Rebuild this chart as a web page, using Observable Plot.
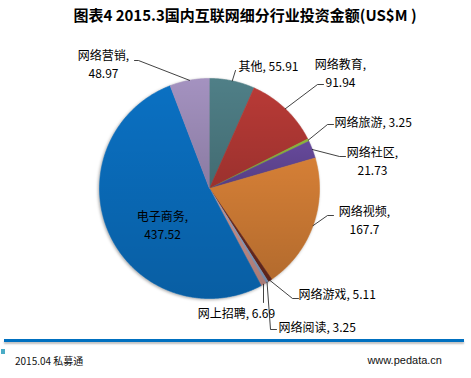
<!DOCTYPE html>
<html><head><meta charset="utf-8">
<script src="https://cdn.jsdelivr.net/npm/d3@7"></script>
<script src="https://cdn.jsdelivr.net/npm/@observablehq/plot@0.6"></script>
<style>
body{margin:0;background:#fff;}
#wrap{position:relative;width:471px;height:378px;overflow:hidden;font-family:"Noto Sans CJK SC","Noto Sans",sans-serif;}
#title{position:absolute;top:3px;left:0;width:490px;text-align:center;font-weight:bold;font-size:15px;line-height:24px;color:#000;}
#chart{position:absolute;top:30px;left:0;}
#rule{position:absolute;top:339px;left:4px;width:460px;height:3px;background:#0070c0;box-shadow:0 2px 2px rgba(0,0,0,0.25);}
#sq{position:absolute;top:349px;left:1px;width:4px;height:5px;background:#4bacc6;}
#f1{position:absolute;top:353px;left:15px;font-size:10px;line-height:16px;color:#111;}
#f2{position:absolute;top:352px;right:29px;font-size:11px;line-height:16px;color:#111;font-family:"Liberation Sans","Noto Sans",sans-serif;}
</style></head>
<body><div id="wrap">
<div id="title">图表4 2015.3国内互联网细分行业投资金额(US$M )</div>
<div id="chart"></div>
<div id="rule"></div><div id="sq"></div>
<div id="f1">2015.04 私募通</div>
<div id="f2">www.pedata.cn</div>
</div>
<script>
const categories = ["其他","网络教育","网络旅游","网络社区","网络视频","网络游戏","网络阅读","网上招聘","电子商务","网络营销"];
const values = [55.91,91.94,3.25,21.73,167.7,5.11,3.25,6.69,437.52,48.97];
const valueLabels = ["55.91","91.94","3.25","21.73","167.7","5.11","3.25","6.69","437.52","48.97"];
const colors = ["#4f7f87","#b83a36","#8db53b","#66499b","#d57f36","#6e2a1f","#8aa3c8","#c9918c","#0a70c2","#a492c0"];

// layout (page coordinates): leader end, underscore length, text block centre/start, anchor, two-line?
const labelLayout = [
  {end:[235,70], tick:0, text:[238,65], anchor:"start", split:false},
  {end:[317,84], tick:6, text:[340,72], anchor:"middle", split:true},
  {end:[327,124], tick:6, text:[334,121], anchor:"start", split:false},
  {end:[339,156], tick:6, text:[372,160], anchor:"middle", split:true},
  {end:[327,215], tick:6, text:[364,219], anchor:"middle", split:true},
  {end:[292,298], tick:6, text:[298,293], anchor:"start", split:false},
  {end:[270,329], tick:6, text:[278,326], anchor:"start", split:false},
  {end:[263,302], tick:0, text:[236,312], anchor:"middle", split:false},
  {end:null, tick:0, text:[162,223.5], anchor:"middle", split:true},
  {end:[138,60], tick:-4, text:[103,63], anchor:"middle", split:true}
];
const CX = 209, CY = 188, R = 110;

const total = d3.sum(values);
let acc = 0;
const slices = categories.map((c, i) => {
  const a0 = acc / total * 2 * Math.PI; acc += values[i];
  const a1 = acc / total * 2 * Math.PI;
  return {c, a0, a1, mid: (a0 + a1) / 2};
});
const piePts = slices.flatMap(s => {
  const n = Math.max(2, Math.ceil((s.a1 - s.a0) / (Math.PI / 360)));
  const pts = [{c: s.c, x: CX, y: CY}];
  for (let k = 0; k <= n; k++) {
    const a = s.a0 + (s.a1 - s.a0) * k / n;
    pts.push({c: s.c, x: CX + R * Math.sin(a), y: CY - R * Math.cos(a)});
  }
  return pts;
});
const leaderPts = [];
slices.forEach((s, i) => {
  const L = labelLayout[i];
  if (!L.end) return;
  leaderPts.push({c: s.c, x: CX + R * Math.sin(s.mid), y: CY - R * Math.cos(s.mid)});
  leaderPts.push({c: s.c, x: L.end[0], y: L.end[1]});
  if (L.tick) leaderPts.push({c: s.c, x: L.end[0] + L.tick, y: L.end[1]});
});
const labels = slices.map((s, i) => {
  const L = labelLayout[i];
  return {c: s.c, x: L.text[0], y: L.text[1], anchor: L.anchor,
    t: L.split ? `${s.c},\n${valueLabels[i]}` : `${s.c}, ${valueLabels[i]}`};
});

const plot = Plot.plot({
  width: 471, height: 308, margin: 0,
  x: {domain: [0, 471], range: [0, 471], axis: null},
  y: {domain: [30, 338], range: [0, 308], axis: null},
  color: {domain: categories, range: colors},
  style: {background: "transparent", fontFamily: "'Noto Sans CJK SC', sans-serif"},
  marks: [
    Plot.line(piePts, {x: "x", y: "y", z: "c", fill: "c", stroke: "c", strokeWidth: 0.6, curve: "linear", className: "pie"}),
    Plot.line(piePts, {x: "x", y: "y", z: "c", fill: "url(#shade)", stroke: "none", curve: "linear", className: "shade"}),
    Plot.line(leaderPts, {x: "x", y: "y", z: "c", stroke: "#111", strokeWidth: 0.8}),
    Plot.text(labels.filter(d => d.anchor === "start"), {x: "x", y: "y", text: "t", textAnchor: "start", fontSize: 12, lineHeight: 1.5, fill: "#000"}),
    Plot.text(labels.filter(d => d.anchor === "middle"), {x: "x", y: "y", text: "t", textAnchor: "middle", fontSize: 12, lineHeight: 1.5, fill: "#000"})
  ]
});
const svg = d3.select(plot);
const grad = svg.append("defs").append("linearGradient").attr("id", "shade")
  .attr("x1", 0).attr("y1", 0).attr("x2", 0).attr("y2", 1);
grad.append("stop").attr("offset", "0%").attr("stop-color", "#000").attr("stop-opacity", 0);
grad.append("stop").attr("offset", "100%").attr("stop-color", "#000").attr("stop-opacity", 0.16);
document.getElementById("chart").appendChild(plot);
svg.selectAll("g.pie").style("filter", "drop-shadow(-1px 1px 1.5px rgba(0,0,0,0.35))");
</script>
</body></html>
